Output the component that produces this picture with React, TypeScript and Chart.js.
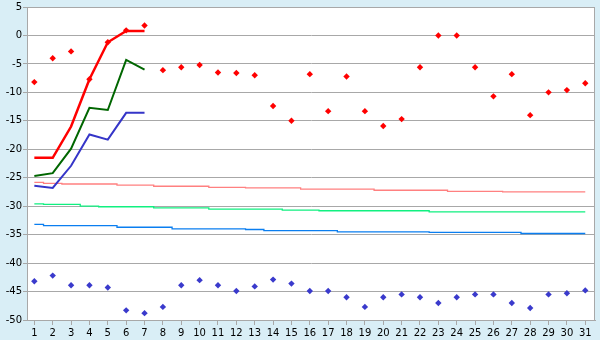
import React, { useEffect, useRef } from "react";
import { Chart, registerables } from "chart.js";

Chart.register(...registerables);

const days = Array.from({ length: 31 }, (_, i) => i + 1);
const yTicks = [5, 0, -5, -10, -15, -20, -25, -30, -35, -40, -45, -50];

// Lines for days 1-7
const redLine = [-21.5, -21.5, -16.0, -7.7, -1.2, 0.8, 0.8];
const greenLine = [-24.7, -24.2, -19.9, -12.7, -13.1, -4.3, -6.0];
const blueLine = [-26.4, -26.8, -22.9, -17.4, -18.3, -13.6, -13.6];

// Scatter markers
const redPoints = [
  -8.2, -4.0, -2.8, -7.7, -1.2, 0.9, 1.75, -6.1, -5.6, -5.2,
  -6.5, -6.6, -7.0, -12.4, -15.0, -6.8, -13.3, -7.2, -13.3, -15.9,
  -14.7, -5.6, 0.0, 0.0, -5.6, -10.7, -6.8, -14.0, -10.0, -9.6, -8.4,
];
const bluePoints = [
  -43.2, -42.2, -43.9, -43.9, -44.3, -48.3, -48.8, -47.7, -43.9, -43.0,
  -43.9, -44.9, -44.1, -42.9, -43.6, -44.9, -44.9, -46.0, -47.7, -46.0,
  -45.5, -46.0, -47.0, -46.0, -45.5, -45.5, -47.0, -47.9, -45.5, -45.3, -44.8,
];

// Stepped reference lines
const pinkStep = [
  -25.8, -26.0, -26.1, -26.1, -26.1, -26.3, -26.3, -26.5, -26.5, -26.5,
  -26.7, -26.7, -26.8, -26.8, -26.8, -27.0, -27.0, -27.0, -27.0, -27.2,
  -27.2, -27.2, -27.2, -27.4, -27.4, -27.4, -27.5, -27.5, -27.5, -27.5, -27.5,
];
const greenStep = [
  -29.6, -29.7, -29.7, -30.0, -30.1, -30.1, -30.1, -30.3, -30.3, -30.3,
  -30.5, -30.5, -30.5, -30.5, -30.7, -30.7, -30.8, -30.8, -30.8, -30.8,
  -30.8, -30.8, -31.0, -31.0, -31.0, -31.0, -31.0, -31.0, -31.0, -31.0, -31.0,
];
const blueStep = [
  -33.2, -33.4, -33.4, -33.4, -33.4, -33.7, -33.7, -33.7, -34.0, -34.0,
  -34.0, -34.0, -34.1, -34.3, -34.3, -34.3, -34.3, -34.5, -34.5, -34.5,
  -34.5, -34.5, -34.6, -34.6, -34.6, -34.6, -34.6, -34.8, -34.8, -34.8, -34.8,
];

const toXY = (vals: number[]) => vals.map((v, i) => ({ x: days[i], y: v }));

const BG = "rgb(217,238,246)";
const GRID = "#a8a8a8";

const framePlugin = {
  id: "frame",
  beforeDraw(chart: any) {
    const { ctx, chartArea } = chart;
    ctx.save();
    ctx.fillStyle = BG;
    ctx.fillRect(0, 0, chart.width, chart.height);
    ctx.fillStyle = "#ffffff";
    ctx.fillRect(chartArea.left, chartArea.top, chartArea.right - chartArea.left, chartArea.bottom - chartArea.top);
    ctx.restore();
  },
  beforeDatasetsDraw(chart: any) {
    const { ctx, chartArea } = chart;
    ctx.save();
    ctx.strokeStyle = GRID;
    ctx.lineWidth = 1;
    ctx.strokeRect(chartArea.left + 0.5, chartArea.top + 0.5, chartArea.right - chartArea.left - 1, chartArea.bottom - chartArea.top);
    ctx.restore();
  },
};

export default function App() {
  const ref = useRef<HTMLCanvasElement>(null);
  useEffect(() => {
    const font = { family: "'DejaVu Sans', Verdana, sans-serif", size: 10 };
    const chart = new Chart(ref.current!, {
      type: "line",
      data: {
        datasets: [
          { label: "redPts", data: toXY(redPoints), showLine: false, pointStyle: "rectRot", pointRadius: 3.2, pointBackgroundColor: "#ff0000", pointBorderWidth: 0, borderColor: "#ff0000" },
          { label: "bluePts", data: toXY(bluePoints), showLine: false, pointStyle: "rectRot", pointRadius: 3.2, pointBackgroundColor: "#3a3acc", pointBorderWidth: 0, borderColor: "#3a3acc" },
          { label: "red", data: toXY(redLine), borderColor: "#ff0000", borderWidth: 2.5, pointRadius: 0, tension: 0 },
          { label: "green", data: toXY(greenLine), borderColor: "#006600", borderWidth: 2, pointRadius: 0, tension: 0 },
          { label: "blue", data: toXY(blueLine), borderColor: "#3535c8", borderWidth: 2, pointRadius: 0, tension: 0 },
          { label: "pinkStep", data: toXY(pinkStep), borderColor: "#ff8080", borderWidth: 1.3, pointRadius: 0, stepped: "middle" },
          { label: "greenStep", data: toXY(greenStep), borderColor: "#10f080", borderWidth: 1.3, pointRadius: 0, stepped: "middle" },
          { label: "blueStep", data: toXY(blueStep), borderColor: "#0a7ef0", borderWidth: 1.3, pointRadius: 0, stepped: "middle" },
        ],
      },
      options: {
        responsive: false,
        animation: false,
        layout: { padding: { top: 5, right: 5, left: 0, bottom: 0 } },
        plugins: { legend: { display: false }, tooltip: { enabled: false } },
        scales: {
          x: {
            type: "linear",
            min: 0.6,
            max: 31.53,
            afterBuildTicks: (scale: any) => {
              scale.ticks = days.map((d) => ({ value: d }));
            },
            afterFit: (scale: any) => {
              scale.height = 20;
            },
            ticks: { autoSkip: false, maxRotation: 0, color: "#000", font, padding: 2, callback: (v: any) => String(v) },
            grid: { drawOnChartArea: false, drawTicks: true, tickLength: 5, color: GRID },
            border: { color: GRID },
          },
          y: {
            type: "linear",
            min: -50,
            max: 5,
            afterBuildTicks: (scale: any) => {
              scale.ticks = yTicks.map((v) => ({ value: v }));
            },
            afterFit: (scale: any) => {
              scale.width = 27;
            },
            ticks: { color: "#000", font, padding: 1, callback: (v: any) => String(v) },
            grid: { color: GRID, tickLength: 4 },
            border: { color: GRID },
          },
        },
      },
      plugins: [framePlugin],
    });
    return () => chart.destroy();
  }, []);
  return (
    <div style={{ position: "fixed", left: 0, top: 0, width: 600, height: 340 }}>
      <canvas ref={ref} width={600} height={340} style={{ width: 600, height: 340 }} />
    </div>
  );
}
